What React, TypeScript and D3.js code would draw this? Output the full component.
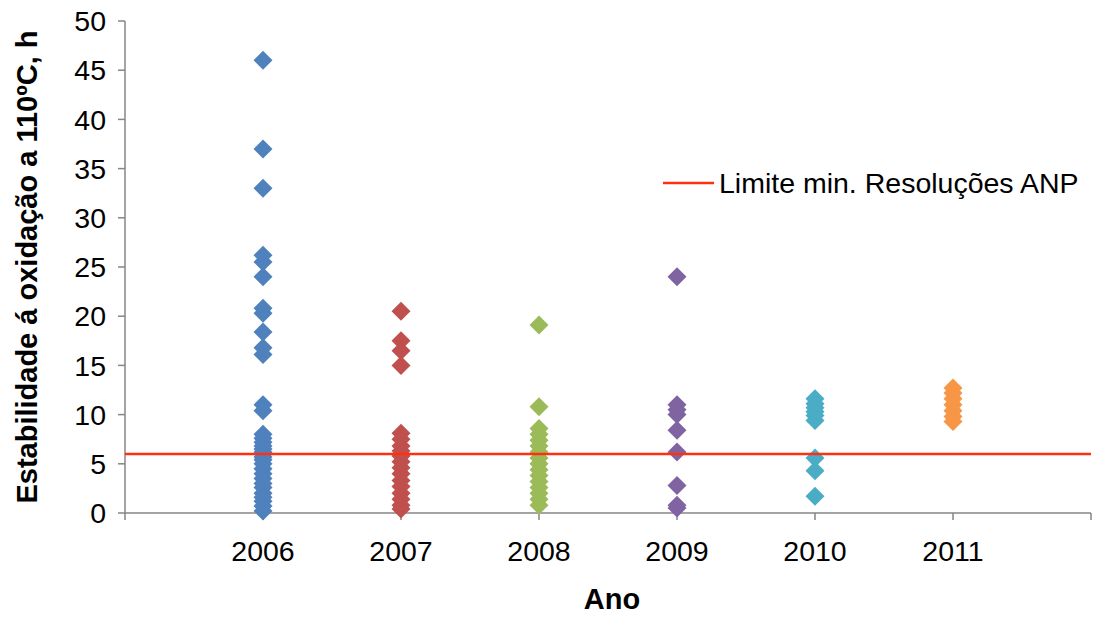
import React from "react";
import * as d3 from "d3";

// Oxidation stability (h at 110 ºC) of samples, grouped by year
const years = [2006, 2007, 2008, 2009, 2010, 2011];
const yearColors = ["#4F81BD", "#C0504D", "#9BBB59", "#8064A2", "#4BACC6", "#F79646"];

const values2006 = [46, 37, 33, 26.2, 25.5, 24, 20.8, 20.3, 18.4, 16.8, 16.1, 11, 10.4,
  8.0, 7.6, 7.2, 6.8, 6.5, 6.2, 6.0, 5.7, 5.4, 5.0, 4.5, 4.0, 3.5, 3.0, 2.6, 2.0, 1.6, 1.2, 0.7, 0.2];
const values2007 = [20.5, 17.5, 16.5, 15, 8.1, 7.5, 6.8, 6.3, 5.8, 5.2, 4.6, 4.0, 3.3, 2.7, 2.0, 1.4, 0.8, 0.4];
const values2008 = [19.1, 10.8, 8.6, 8.0, 7.4, 6.8, 6.2, 5.6, 5.0, 4.4, 3.8, 3.2, 2.6, 2.0, 1.4, 0.8];
const values2009 = [24, 11, 10.5, 10, 8.4, 6.2, 2.8, 0.8, 0.5];
const values2010 = [11.6, 11.1, 10.7, 10.3, 9.9, 9.4, 5.6, 4.3, 1.7];
const values2011 = [12.7, 12.2, 11.6, 11.0, 10.4, 9.8, 9.3];

const seriesValues = [values2006, values2007, values2008, values2009, values2010, values2011];

const yTicks = [0, 5, 10, 15, 20, 25, 30, 35, 40, 45, 50];
const xTicks = [2005, 2006, 2007, 2008, 2009, 2010, 2011, 2012];
const limitValue = 6;
const limitLabel = "Limite min. Resoluções ANP";
const yTitle = "Estabilidade á oxidação a 110ºC, h";
const xTitle = "Ano";

const W = 1093;
const H = 617;
const plot = { left: 125, right: 1091, top: 21, bottom: 513 };
const font = "'Liberation Sans', Arial, sans-serif";
const labelSize = 28.5;
const titleSize = 29;
const limitColor = "#FF3010";

export default function App() {
  const x = d3.scaleLinear().domain([2005, 2012]).range([plot.left, plot.right]);
  const y = d3.scaleLinear().domain([0, 50]).range([plot.bottom, plot.top]);
  const diamond = d3.symbol().type(d3.symbolDiamond2).size(230)();
  const axisColor = "#868686";

  return (
    <svg width={W} height={H} style={{ position: "absolute", left: 0, top: 0, background: "#fff" }}
      fontFamily={font}>
      {/* y axis */}
      <line x1={plot.left} x2={plot.left} y1={y(50)} y2={y(0)} stroke={axisColor} strokeWidth={1.5} />
      {yTicks.map((t) => (
        <g key={t}>
          <line x1={plot.left - 7} x2={plot.left} y1={y(t)} y2={y(t)} stroke={axisColor} strokeWidth={1.5} />
          <text x={106} y={y(t)} dy="0.36em" textAnchor="end" fontSize={labelSize} fill="#000">{t}</text>
        </g>
      ))}
      {/* x axis */}
      <line x1={x(2005)} x2={x(2012)} y1={y(0)} y2={y(0)} stroke={axisColor} strokeWidth={1.5} />
      {xTicks.map((t) => (
        <line key={t} x1={x(t)} x2={x(t)} y1={y(0)} y2={y(0) + 7} stroke={axisColor} strokeWidth={1.5} />
      ))}
      {years.map((yr) => (
        <text key={yr} x={x(yr)} y={561} textAnchor="middle" fontSize={labelSize} fill="#000">{yr}</text>
      ))}

      {/* points */}
      {seriesValues.map((vals, i) => (
        <g key={years[i]} fill={yearColors[i]}>
          {vals.map((v, j) => (
            <path key={j} d={diamond} transform={`translate(${x(years[i])},${y(v)})`} />
          ))}
        </g>
      ))}

      {/* minimum limit */}
      <line x1={x(2005)} x2={x(2012)} y1={y(limitValue)} y2={y(limitValue)} stroke={limitColor} strokeWidth={2.5} />

      {/* legend */}
      <line x1={663} x2={714} y1={183} y2={183} stroke={limitColor} strokeWidth={2.5} />
      <text x={719} y={193} fontSize={labelSize} fill="#000">{limitLabel}</text>

      {/* titles */}
      <text transform={`translate(37,${(plot.top + plot.bottom) / 2}) rotate(-90)`} textAnchor="middle"
        fontSize={titleSize} fontWeight="bold" fill="#000">{yTitle}</text>
      <text x={612} y={609} textAnchor="middle" fontSize={titleSize} fontWeight="bold" fill="#000">{xTitle}</text>
    </svg>
  );
}
